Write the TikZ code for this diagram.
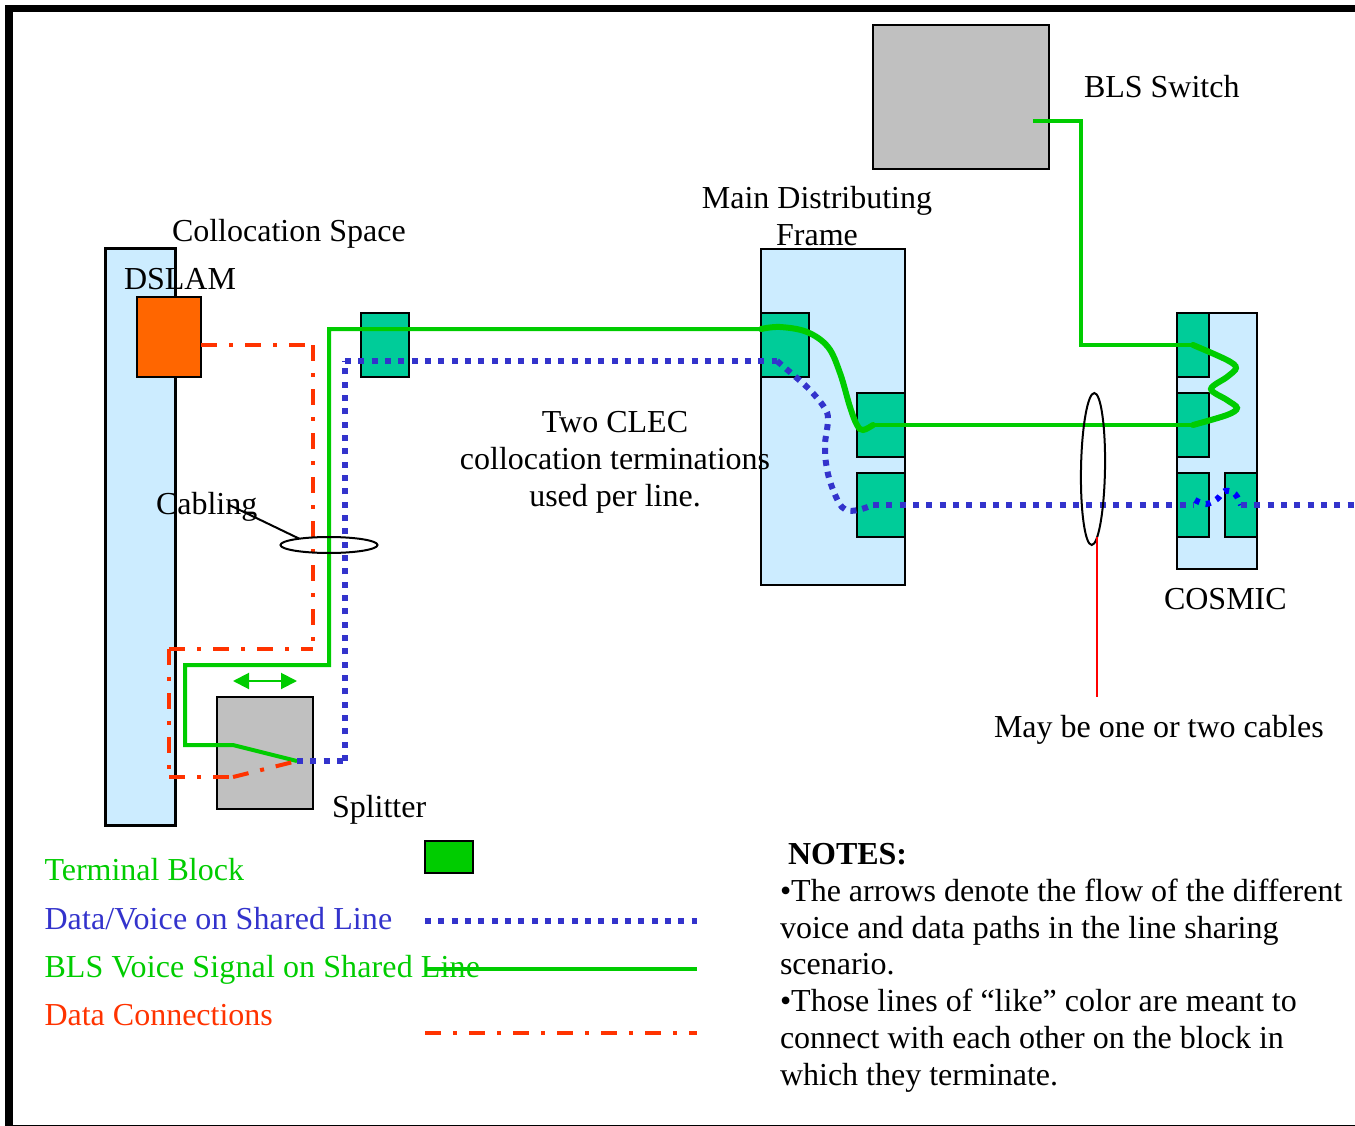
\documentclass[tikz,border=0pt]{standalone}
\usepackage{fontspec}
\setmainfont{Liberation Serif}
\usetikzlibrary{shapes.geometric, arrows.meta, positioning}
\definecolor{panelazul}{HTML}{CCECFF}
\definecolor{bloqueverde}{HTML}{00CC99}
\definecolor{verde}{HTML}{00CC00}
\definecolor{azul}{HTML}{3333CC}
\definecolor{rojo}{HTML}{FF3300}
\definecolor{naranja}{HTML}{FF6600}
\definecolor{gris}{HTML}{C0C0C0}
\tikzset{
  caja/.style={rectangle, draw=black, line width=2pt, anchor=north west, inner sep=0pt, outer sep=0pt},
  panel/.style={caja, fill=panelazul},
  bloque/.style={caja, fill=bloqueverde},
  equipo/.style={caja, fill=gris},
  etiq/.style={anchor=base west, inner sep=0pt, outer sep=0pt, font=\fontsize{32}{37}\selectfont},
  etiqc/.style={etiq, anchor=base, align=center},
  lazo/.style={ellipse, draw=black, line width=2pt, inner sep=0pt, outer sep=0pt},
  lverde/.style={draw=verde, line width=4pt, line join=miter},
  lverdeg/.style={draw=verde, line width=6pt, line cap=round},
  lazul/.style={draw=azul, line width=6pt, dash pattern=on 6pt off 7.33pt},
  lazulc/.style={draw=azul, line width=6pt, dash pattern=on 6pt off 6pt},
  lrojo/.style={draw=rojo, line width=4pt, dash pattern=on 16pt off 12pt on 4pt off 12pt}
}
\begin{document}
\begin{tikzpicture}[x=1pt, y=-1pt]
  \useasboundingbox (0,0) rectangle (1355,1126);
  % marco
  \fill[black] (5,5) rectangle (1355,12);
  \fill[black] (5,5) rectangle (13,1126);
  \fill[black] (5,1125) rectangle (1355,1126);
  % cajas
  \node[panel, line width=3pt, minimum width=70pt, minimum height=576pt] (rack) at (105,249) {};
  \node[panel, minimum width=144pt, minimum height=336pt] (mdf) at (761,249) {};
  \node[panel, minimum width=80pt, minimum height=256pt] (cosmic) at (1177,313) {};
  \node[equipo, minimum width=176pt, minimum height=144pt] (bls) at (873,25) {};
  \node[equipo, minimum width=96pt, minimum height=112pt] (split) at (217,697) {};
  \node[caja, fill=naranja, minimum width=64pt, minimum height=80pt] (dslam) at (137,297) {};
  \node[bloque, minimum width=48pt, minimum height=64pt] (bcol) at (361,313) {};
  \node[bloque, minimum width=48pt, minimum height=64pt] (bmdfa) at (761,313) {};
  \node[bloque, minimum width=48pt, minimum height=64pt] (bmdfb) at (857,393) {};
  \node[bloque, minimum width=48pt, minimum height=64pt] (bmdfc) at (857,473) {};
  \node[bloque, minimum width=32pt, minimum height=64pt] (bcosa) at (1177,313) {};
  \node[bloque, minimum width=32pt, minimum height=64pt] (bcosb) at (1177,393) {};
  \node[bloque, minimum width=32pt, minimum height=64pt] (bcosc) at (1177,473) {};
  \node[bloque, minimum width=32pt, minimum height=64pt] (bcosd) at (1225,473) {};
  \node[caja, draw=black, line width=1.5pt, fill=verde, minimum width=48pt, minimum height=32pt] (leyb) at (425,841) {};
  % puntos de paso
  \coordinate (blsout) at (1033,121);
  \coordinate (cosa) at (1193,345);
  \coordinate (cosb) at (1193,425);
  \coordinate (cosc) at (1193,505);
  \coordinate (cose) at (1195,500);
  \coordinate (cosd) at (1241,505);
  \coordinate (mdfb) at (873,425);
  \coordinate (mdfc) at (873,505);
  \coordinate (mdfa) at (761,329);
  \coordinate (mdfd) at (777,361);
  \coordinate (splin) at (297,761);
  \coordinate (salida) at (1355,505);
  \coordinate (azesq) at (345,761);
  \coordinate (azsup) at (345,361);
  \coordinate (roa) at (201,345);
  \coordinate (rob) at (313,345);
  \coordinate (roc) at (313,649);
  \coordinate (rod) at (169,649);
  \coordinate (roe) at (169,777);
  \coordinate (rof) at (233,777);
  % lineas verdes
  \draw[lverde] (blsout) -| (1081,345) -- (cosa);
  \draw[lverdeg] plot[smooth, tension=0.55] coordinates {(cosa) (1227,360) (1236,368) (1227,377) (1211,389) (1227,400) (1237,408) (1227,415) (cosb)};
  \draw[lverde] (cosb) -- (mdfb);
  \draw[lverdeg] plot[smooth, tension=0.6] coordinates {(mdfb) (863,430) (857,425) (850,407) (840,373) (828,347) (807,332) (780,327) (mdfa)};
  \draw[lverde] (mdfa) -- (329,329) -- (329,665) -- (185,665) -- (185,745) -- (233,745) -- (splin);
  % lineas azules
  \draw[lazul] (splin) -- (azesq);
  \draw[lazul] (azesq) -- (azsup);
  \draw[lazul] (azsup) -- (mdfd);
  \draw[lazulc] plot[smooth, tension=0.6] coordinates {(mdfd) (791,373) (809,389) (824,407) (828,419) (825,443) (825,455) (829,478) (838,501) (846,510) (858,510) (mdfc)};
  \draw[lazul] (mdfc) -- (cosc);
  \draw[draw=blue, line width=6pt, dash pattern=on 5pt off 6.5pt] plot[smooth, tension=0.6] coordinates {(cose) (1206,504) (1217,499) (1225,491) (1235,494) (cosd)};
  \draw[lazul] (cosd) -- (salida);
  % lineas rojas
  \draw[lrojo] (roa) -- (rob);
  \draw[lrojo] (rob) -- (roc);
  \draw[lrojo] (rod) -- (roc);
  \draw[lrojo] (rod) -- (roe);
  \draw[lrojo] (roe) -- (rof);
  \draw[lrojo] (rof) -- (splin);
  % lazos
  \node[lazo, minimum width=97pt, minimum height=16pt] (lazoa) at (329,545) {};
  \node[lazo, minimum width=24pt, minimum height=152pt, rotate=-1] (lazob) at (1093,469) {};
  % leyenda, lineas
  \coordinate (leya) at (425,921);
  \coordinate (leyc) at (425,969);
  \coordinate (leyd) at (425,1033);
  \draw[lazul] (leya) -- (697,921);
  \draw[lverde] (leyc) -- (697,969);
  \draw[lrojo] (leyd) -- (697,1033);
  % textos
  \node[etiq] (tcol) at (172,242) {Collocation Space};
  \node[etiq] (tdslam) at (124,289) {DSLAM};
  \node[etiq] (tcab) at (156,514) {Cabling};
  \node[etiq] (tsplit) at (332,817) {Splitter};
  \node[etiq] (tbls) at (1084,98) {BLS Switch};
  \node[etiq] (tcos) at (1164,609) {COSMIC};
  \node[etiq] (tmay) at (994,737) {May be one or two cables};
  \node[etiqc] (tmdf) at (817,246) {Main Distributing\\Frame};
  \node[etiqc] (tclec) at (615,506) {Two CLEC\\collocation terminations\\used per line.};
  \node[etiq, text=verde] (ltb) at (44.5,880) {Terminal Block};
  \node[etiq, text=azul] (ldv) at (44.5,929) {\addfontfeature{LetterSpace=0.4}Data/Voice on Shared Line};
  \node[etiq, text=verde] (lbv) at (44.5,977) {\addfontfeature{LetterSpace=0.4}BLS Voice Signal on Shared Line};
  \node[etiq, text=rojo] (ldc) at (44.5,1025) {Data Connections};
  \node[etiq, align=left, font=\fontsize{32}{36.7}\selectfont] (notas) at (780,1085) {\hspace*{8pt}\textbf{NOTES:}\\
    •The arrows denote the flow of the different\\
    voice and data paths in the line sharing\\
    scenario.\\
    •Those lines of “like” color are meant to\\
    connect with each other on the block in\\
    which they terminate.};
  % conectores finos
  \coordinate (rofin) at (1097,697);
  \draw[black, line width=2pt] (tcab.base east) ++(-28,-9) -- (lazoa.168);
  \draw[red, line width=2pt] (lazob.south -| rofin) ++(0,-8) -- (rofin);
  \draw[{Triangle[length=16pt,width=16pt]}-{Triangle[length=16pt,width=16pt]}, draw=verde, fill=verde, line width=2pt] (split.north) ++(-32,-16) coordinate (fa) -- ++(64,0) coordinate (fb);
\end{tikzpicture}
\end{document}
